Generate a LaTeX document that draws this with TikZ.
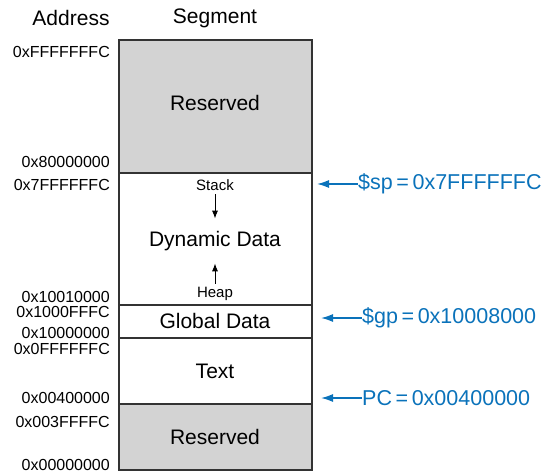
\documentclass[tikz,border=0pt]{standalone}
\usepackage{fontspec}
\setmainfont{Liberation Sans}
\usetikzlibrary{arrows.meta,positioning}
\definecolor{memblue}{HTML}{0A72BA}
\definecolor{memgrey}{HTML}{D3D3D3}
\definecolor{memline}{HTML}{333333}

\begin{document}
\begin{tikzpicture}[x=1pt,y=-1pt,
  seglabel/.style={font=\fontsize{21}{25}\selectfont},
  smalllabel/.style={font=\fontsize{15}{18}\selectfont},
  addr/.style={anchor=east, inner sep=0pt, font=\fontsize{16}{19}\selectfont},
  ptrlabel/.style={anchor=west, inner sep=0pt, text=memblue, font=\fontsize{21.5}{25}\selectfont},
  ptrarrow/.style={memblue, line width=1.5pt, -{Latex[length=12pt,width=8pt]}},
  growarrow/.style={line width=1pt, -{Latex[length=8pt,width=6pt]}}]
\useasboundingbox (0,0) rectangle (541,473);
\foreach \ya/\yb/\shade in {40/173/memgrey, 173/305/white, 305/338/white, 338/404/white, 404/470/memgrey}
  \draw[memline, line width=1.2pt, fill=\shade] (119,\ya) rectangle (312,\yb);
\foreach \y/\val in {52/FFFFFFFC, 162/80000000, 184.5/7FFFFFFC, 297/10010000, 311.5/1000FFFC,
  333/10000000, 349/0FFFFFFC, 397.5/00400000, 421.5/003FFFFC, 465/00000000}
  \node[addr] (a\val) at (110,\y) {0x\val};
\node[seglabel] (addrhead) at (71,18) {Address};
\node[seglabel] (seghead) at (215,18) {Segment};
\node[seglabel] (reshigh) at (215,103) {Reserved};
\node[smalllabel] (stack) at (215,185) {Stack};
\node[seglabel] (dyn) at (215,241) {Dynamic Data};
\node[smalllabel] (heap) at (215,294) {Heap};
\node[seglabel] (global) at (215,321) {Global Data};
\node[seglabel] (text) at (215,371) {Text};
\node[seglabel] (reslow) at (215,437) {Reserved};
\draw[growarrow, shorten >=9pt] (stack.south) -- (dyn.north);
\draw[growarrow, shorten >=9pt] (heap.north) -- (dyn.south);
\coordinate (sptip) at (317,184);
\coordinate (gptip) at (321,318);
\coordinate (pctip) at (321,398);
\node[ptrlabel] (sp) at (358,184) {\$sp\,=\,0x7FFFFFFC};
\node[ptrlabel] (gp) at (362,318) {\$gp\,=\,0x10008000};
\node[ptrlabel] (pc) at (362,398) {PC\,=\,0x00400000};
\draw[ptrarrow] (sp.west) -- (sptip |- sp.west);
\draw[ptrarrow] (gp.west) -- (gptip |- gp.west);
\draw[ptrarrow] (pc.west) -- (pctip |- pc.west);
\end{tikzpicture}
\end{document}
